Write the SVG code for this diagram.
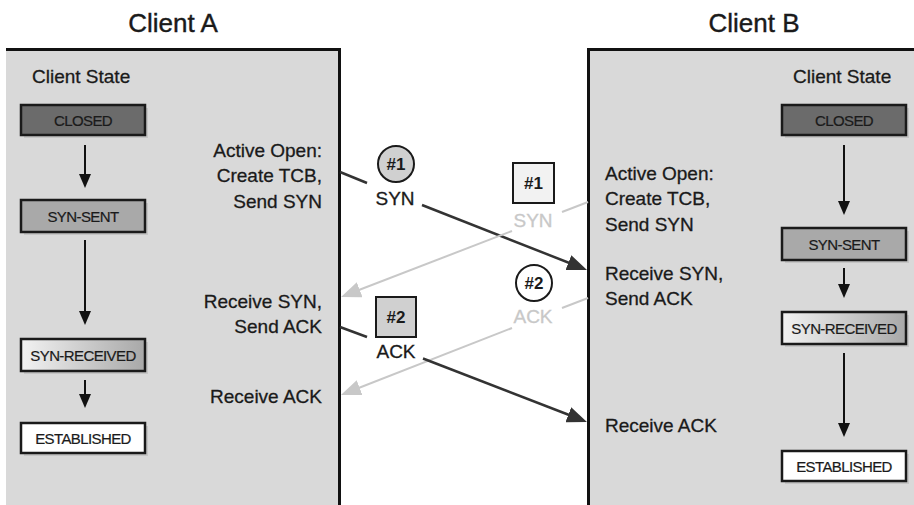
<svg xmlns="http://www.w3.org/2000/svg" width="914" height="505" viewBox="0 0 914 505">
<defs>
<style>
text{font-family:"Liberation Sans",Arial,sans-serif;fill:#1a1a1a}
.title{font-size:26px;text-anchor:middle;stroke:#1a1a1a;stroke-width:0.4}
.lbl{font-size:19px;stroke:#1a1a1a;stroke-width:0.3}
.r{text-anchor:end}
.st{font-size:15px;text-anchor:middle;letter-spacing:-0.6px;stroke:#1a1a1a;stroke-width:0.2}
.box{stroke:#1a1a1a;stroke-width:2.5}
.shadow{fill:#b8b8b8;opacity:0.6}
.num{font-size:17px;font-weight:bold;text-anchor:middle}
.msg{font-size:19px;text-anchor:middle;stroke:#1a1a1a;stroke-width:0.3}
.light{fill:#c8c8c8;stroke:#c8c8c8}
.dline{stroke:#333;stroke-width:2.5;fill:none}
.lline{stroke:#c8c8c8;stroke-width:2;fill:none}
.vline{stroke:#111;stroke-width:2;fill:none}
</style>
<linearGradient id="grad" x1="0" y1="0" x2="1" y2="0">
<stop offset="0" stop-color="#f2f2f2"/>
<stop offset="1" stop-color="#a8a8a8"/>
</linearGradient>
<marker id="ad" markerWidth="20" markerHeight="16" refX="12" refY="8" orient="auto" markerUnits="userSpaceOnUse"><path d="M0,0 L20,8 L0,16 z" fill="#333"/></marker>
<marker id="al" markerWidth="20" markerHeight="16" refX="12" refY="8" orient="auto" markerUnits="userSpaceOnUse"><path d="M0,0 L20,8 L0,16 z" fill="#c8c8c8"/></marker>
<marker id="av" markerWidth="14" markerHeight="12" refX="7" refY="6" orient="auto" markerUnits="userSpaceOnUse"><path d="M0,0 L14,6 L0,12 z" fill="#111"/></marker>
</defs>
<rect width="914" height="505" fill="#fff"/>

<g id="clientA">
<text class="title" x="173" y="32">Client A</text>
<rect x="6" y="49.5" width="333.5" height="460" fill="#d9d9d9"/>
<path d="M6,49.5 H339.5 V510" fill="none" stroke="#111" stroke-width="3"/>
<text class="lbl" x="32" y="83">Client State</text>
</g>

<g id="clientB">
<text class="title" x="754" y="32">Client B</text>
<rect x="588.5" y="49.5" width="330" height="460" fill="#d9d9d9"/>
<path d="M588.5,510 V49.5 H920" fill="none" stroke="#111" stroke-width="3"/>
<text class="lbl" x="793" y="83">Client State</text>
</g>

<g id="a-closed">
<rect class="shadow" x="24" y="108" width="124" height="30"/>
<rect class="box" x="21" y="105" width="124" height="30" fill="#6b6b6b"/>
<text class="st" x="83" y="125.5">CLOSED</text>
</g>
<g id="a-synsent">
<rect class="shadow" x="24" y="203" width="124" height="32"/>
<rect class="box" x="21" y="200" width="124" height="32" fill="#a9a9a9"/>
<text class="st" x="83" y="221.5">SYN-SENT</text>
</g>
<g id="a-synrcvd">
<rect class="shadow" x="24" y="342" width="124" height="32"/>
<rect class="box" x="21" y="339" width="124" height="32" fill="url(#grad)"/>
<text class="st" x="83" y="360.5">SYN-RECEIVED</text>
</g>
<g id="a-estab">
<rect class="shadow" x="24" y="426" width="124" height="30"/>
<rect class="box" x="21" y="423" width="124" height="30" fill="#fff"/>
<text class="st" x="83" y="443.5">ESTABLISHED</text>
</g>

<g id="b-closed">
<rect class="shadow" x="785" y="108" width="124" height="30"/>
<rect class="box" x="782" y="105" width="124" height="30" fill="#6b6b6b"/>
<text class="st" x="844" y="125.5">CLOSED</text>
</g>
<g id="b-synsent">
<rect class="shadow" x="785" y="231" width="124" height="32"/>
<rect class="box" x="782" y="228" width="124" height="32" fill="#a9a9a9"/>
<text class="st" x="844" y="249.5">SYN-SENT</text>
</g>
<g id="b-synrcvd">
<rect class="shadow" x="785" y="315" width="124" height="32"/>
<rect class="box" x="782" y="312" width="124" height="32" fill="url(#grad)"/>
<text class="st" x="844" y="333.5">SYN-RECEIVED</text>
</g>
<g id="b-estab">
<rect class="shadow" x="785" y="454" width="124" height="30"/>
<rect class="box" x="782" y="451" width="124" height="30" fill="#fff"/>
<text class="st" x="844" y="471.5">ESTABLISHED</text>
</g>

<g id="a-actions">
<text class="lbl r" x="322" y="157">Active Open:</text>
<text class="lbl r" x="322" y="182">Create TCB,</text>
<text class="lbl r" x="322" y="208">Send SYN</text>
<text class="lbl r" x="322" y="308">Receive SYN,</text>
<text class="lbl r" x="322" y="333">Send ACK</text>
<text class="lbl r" x="322" y="403">Receive ACK</text>
</g>
<g id="b-actions">
<text class="lbl" x="605" y="180">Active Open:</text>
<text class="lbl" x="605" y="205">Create TCB,</text>
<text class="lbl" x="605" y="231">Send SYN</text>
<text class="lbl" x="605" y="280">Receive SYN,</text>
<text class="lbl" x="605" y="305">Send ACK</text>
<text class="lbl" x="605" y="432">Receive ACK</text>
</g>

<g id="labels">
<g id="syn-a">
<circle cx="396" cy="164" r="18" fill="#d0d0d0" stroke="#1a1a1a" stroke-width="2"/>
<text class="num" x="396" y="170">#1</text>
<text class="msg" x="395" y="205">SYN</text>
</g>
<g id="syn-b">
<rect x="513" y="163" width="41" height="40" fill="#f2f2f2" stroke="#1a1a1a" stroke-width="2"/>
<text class="num" x="533.5" y="189">#1</text>
<text class="msg light" x="533" y="227">SYN</text>
</g>
<g id="ack-b">
<circle cx="534" cy="283" r="18" fill="#fff" stroke="#1a1a1a" stroke-width="2"/>
<text class="num" x="534" y="289">#2</text>
<text class="msg light" x="533" y="323">ACK</text>
</g>
<g id="ack-a">
<rect x="376" y="297" width="40" height="40" fill="#d0d0d0" stroke="#1a1a1a" stroke-width="2"/>
<text class="num" x="396" y="323">#2</text>
<text class="msg" x="396" y="358">ACK</text>
</g>
</g>

<g id="connectors">
<line class="vline" x1="85" y1="145" x2="85" y2="181" marker-end="url(#av)"/>
<line class="vline" x1="85" y1="240" x2="85" y2="318" marker-end="url(#av)"/>
<line class="vline" x1="85" y1="380" x2="85" y2="401" marker-end="url(#av)"/>
<line class="vline" x1="844" y1="145" x2="844" y2="208" marker-end="url(#av)"/>
<line class="vline" x1="844" y1="268" x2="844" y2="291" marker-end="url(#av)"/>
<line class="vline" x1="844" y1="353" x2="844" y2="430" marker-end="url(#av)"/>

<line class="dline" x1="340" y1="172" x2="367" y2="183"/>
<line class="dline" x1="422" y1="205" x2="579.6" y2="267" marker-end="url(#ad)"/>

<line class="lline" x1="588" y1="202" x2="562" y2="212"/>
<line class="lline" x1="512" y1="231" x2="348.5" y2="294" marker-end="url(#al)"/>

<line class="lline" x1="588" y1="298" x2="562" y2="308"/>
<line class="lline" x1="512" y1="328" x2="348.4" y2="392" marker-end="url(#al)"/>

<line class="dline" x1="340" y1="327" x2="367" y2="337"/>
<line class="dline" x1="423" y1="358.5" x2="579.5" y2="419" marker-end="url(#ad)"/>
</g>
</svg>
